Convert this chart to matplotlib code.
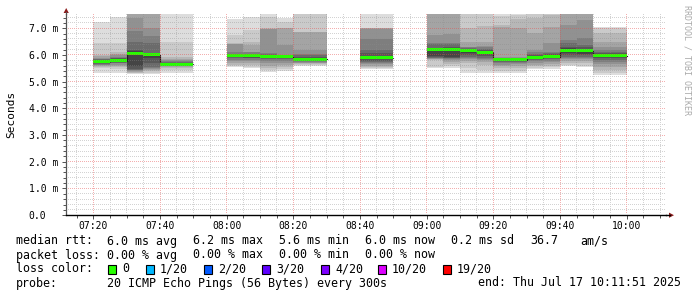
import matplotlib
matplotlib.use("Agg")
import matplotlib.pyplot as plt
from matplotlib.patches import Rectangle
import numpy as np

# ---------------- data (values in milliseconds) ----------------
slot_starts = ["07:20", "07:25", "07:30", "07:35", "07:40", "07:45", "07:50", "07:55",
               "08:00", "08:05", "08:10", "08:15", "08:20", "08:25", "08:30", "08:35",
               "08:40", "08:45", "08:50", "08:55", "09:00", "09:05", "09:10", "09:15",
               "09:20", "09:25", "09:30", "09:35", "09:40", "09:45", "09:50", "09:55"]

median_ms = [5.74, 5.79, 6.06, 6.01, 5.65, 5.65, None, None,
             5.96, 5.96, 5.94, 5.94, 5.84, 5.84, None, None,
             5.90, 5.90, None, None, 6.22, 6.22, 6.16, 6.10,
             5.81, 5.81, 5.90, 5.94, 6.18, 6.15, 5.97, 5.97]

# 20 sorted ping round-trip times per 5-minute slot
ping_ms = [
    [5.31, 5.50, 5.55, 5.58, 5.61, 5.64, 5.67, 5.69, 5.71, 5.73, 5.76, 5.78, 5.80, 5.83, 5.86, 5.90, 5.95, 6.00, 6.44, 7.22],
    [5.31, 5.48, 5.55, 5.60, 5.64, 5.68, 5.71, 5.74, 5.76, 5.78, 5.81, 5.84, 5.87, 5.90, 5.94, 5.98, 6.03, 6.12, 6.44, 7.41],
    [5.30, 5.32, 5.34, 5.37, 5.40, 5.42, 5.44, 5.46, 5.60, 6.02, 6.10, 6.13, 6.19, 6.50, 6.90, 7.40, 7.60, 7.70, 7.80, 7.90],
    [5.30, 5.34, 5.38, 5.42, 5.46, 5.50, 5.56, 5.70, 5.90, 5.99, 6.03, 6.05, 6.08, 6.44, 6.70, 7.00, 7.60, 7.70, 7.80, 7.90],
    [5.31, 5.42, 5.50, 5.55, 5.58, 5.60, 5.61, 5.62, 5.63, 5.64, 5.67, 5.69, 5.71, 5.74, 5.77, 5.81, 5.86, 5.94, 6.50, 7.80],
    [5.31, 5.42, 5.50, 5.55, 5.58, 5.60, 5.61, 5.62, 5.63, 5.64, 5.67, 5.69, 5.71, 5.74, 5.77, 5.81, 5.86, 5.94, 6.50, 7.80],
    None,
    None,
    [5.56, 5.60, 5.63, 5.70, 5.78, 5.82, 5.89, 5.91, 5.93, 5.95, 5.97, 5.99, 6.00, 6.05, 6.12, 6.40, 6.42, 6.44, 6.75, 7.35],
    [5.52, 5.56, 5.63, 5.70, 5.76, 5.82, 5.87, 5.90, 5.93, 5.95, 5.97, 5.99, 6.00, 6.05, 6.10, 6.12, 6.37, 6.50, 6.94, 7.41],
    [5.35, 5.42, 5.50, 5.60, 5.70, 5.78, 5.84, 5.88, 5.91, 5.93, 5.95, 5.97, 6.00, 6.02, 6.06, 6.96, 6.98, 7.00, 7.42, 7.80],
    [5.40, 5.46, 5.54, 5.62, 5.70, 5.78, 5.84, 5.88, 5.91, 5.93, 5.95, 5.96, 5.97, 5.98, 6.00, 6.37, 7.00, 7.02, 7.25, 7.40],
    [5.60, 5.62, 5.65, 5.68, 5.70, 5.73, 5.76, 5.79, 5.81, 5.83, 5.86, 5.88, 5.92, 6.00, 6.05, 6.19, 6.85, 6.87, 7.60, 7.80],
    [5.60, 5.62, 5.65, 5.68, 5.70, 5.73, 5.76, 5.79, 5.81, 5.83, 5.86, 5.88, 5.92, 6.00, 6.05, 6.19, 6.85, 6.87, 7.60, 7.80],
    None,
    None,
    [5.47, 5.50, 5.55, 5.60, 5.65, 5.70, 5.75, 5.78, 5.85, 5.88, 5.92, 5.97, 6.06, 6.19, 6.60, 6.98, 6.99, 7.00, 7.00, 7.80],
    [5.47, 5.50, 5.55, 5.60, 5.65, 5.70, 5.75, 5.78, 5.85, 5.88, 5.92, 5.97, 6.06, 6.19, 6.60, 6.98, 6.99, 7.00, 7.00, 7.80],
    None,
    None,
    [5.50, 5.56, 5.80, 5.83, 5.85, 5.87, 5.90, 5.93, 5.96, 6.20, 6.24, 6.25, 6.26, 6.42, 6.44, 6.75, 7.60, 7.70, 7.80, 7.90],
    [5.52, 5.58, 5.66, 5.74, 5.80, 5.84, 5.87, 5.90, 5.94, 6.20, 6.24, 6.26, 6.28, 6.40, 6.46, 6.80, 7.60, 7.70, 7.80, 7.90],
    [5.31, 5.50, 5.69, 5.78, 5.85, 5.90, 5.94, 6.00, 6.08, 6.14, 6.18, 6.20, 6.22, 6.25, 6.28, 6.31, 6.50, 7.00, 7.70, 7.80],
    [5.31, 5.45, 5.63, 5.74, 5.80, 5.86, 5.90, 5.95, 6.02, 6.08, 6.12, 6.14, 6.17, 6.22, 6.28, 6.35, 6.50, 7.10, 7.70, 7.80],
    [5.31, 5.38, 5.50, 5.58, 5.63, 5.68, 5.72, 5.76, 5.78, 5.80, 5.83, 5.85, 5.87, 5.88, 5.90, 5.92, 7.05, 7.12, 7.45, 7.80],
    [5.31, 5.40, 5.52, 5.60, 5.65, 5.69, 5.73, 5.76, 5.78, 5.80, 5.83, 5.85, 5.87, 5.88, 5.90, 5.92, 7.00, 7.35, 7.50, 7.65],
    [5.47, 5.52, 5.58, 5.64, 5.70, 5.76, 5.81, 5.84, 5.87, 5.89, 5.92, 5.95, 5.98, 6.02, 6.10, 6.19, 6.81, 7.40, 7.70, 7.80],
    [5.47, 5.53, 5.60, 5.66, 5.72, 5.78, 5.83, 5.87, 5.90, 5.93, 5.96, 5.99, 6.02, 6.06, 6.12, 6.44, 7.06, 7.50, 7.70, 7.80],
    [5.58, 5.63, 5.70, 5.78, 5.85, 5.90, 5.94, 6.00, 6.06, 6.16, 6.20, 6.24, 6.31, 6.44, 6.56, 7.12, 7.60, 7.70, 7.80, 7.90],
    [5.54, 5.60, 5.68, 5.76, 5.83, 5.88, 5.93, 5.98, 6.04, 6.13, 6.18, 6.22, 6.28, 6.37, 6.62, 7.30, 7.60, 7.70, 7.80, 7.90],
    [5.26, 5.33, 5.45, 5.56, 5.66, 5.74, 5.81, 5.87, 5.92, 5.95, 6.00, 6.03, 6.06, 6.12, 6.19, 6.31, 6.50, 6.81, 7.00, 7.05],
    [5.26, 5.33, 5.45, 5.56, 5.66, 5.74, 5.81, 5.87, 5.92, 5.95, 6.00, 6.03, 6.06, 6.12, 6.19, 6.31, 6.50, 6.81, 7.00, 7.05],
]

time_start = "07:11:51"
time_end = "10:11:51"
step_min = 5
x_tick_labels = ["07:20", "07:40", "08:00", "08:20", "08:40", "09:00", "09:20", "09:40", "10:00"]
y_ticks = [0, 1, 2, 3, 4, 5, 6, 7]
y_max = 7.55

stats_rtt = ["median rtt:", "6.0 ms avg", "6.2 ms max", "5.6 ms min", "6.0 ms now", "0.2 ms sd", "36.7", "am/s"]
stats_loss = ["packet loss:", "0.00 % avg", "0.00 % max", "0.00 % min", "0.00 % now"]
loss_labels = ["0", "1/20", "2/20", "3/20", "4/20", "10/20", "19/20"]
loss_colors = ["#26ff00", "#00b8ff", "#0059ff", "#5e00ff", "#7e00ff", "#dd00ff", "#ff0000"]
probe_text = "20 ICMP Echo Pings (56 Bytes) every 300s"
end_text = "end: Thu Jul 17 10:11:51 2025"

# ---------------- helpers ----------------
def to_min(s):
    parts = [int(p) for p in s.split(":")]
    m = parts[0] * 60 + parts[1]
    if len(parts) > 2:
        m += parts[2] / 60.0
    return m

W, H = 697, 297
fig = plt.figure(figsize=(W / 100, H / 100), dpi=100)
fig.patch.set_facecolor("white")
MONO = "DejaVu Sans Mono"

ax_l, ax_r, ax_b, ax_t = 66.2, 666.2, 215.2, 13.5
ax = fig.add_axes([ax_l / W, 1 - ax_b / H, (ax_r - ax_l) / W, (ax_b - ax_t) / H])
ax.set_facecolor("white")
ax.set_xlim(to_min(time_start), to_min(time_end))
ax.set_ylim(0, y_max)
px_per_ms = (ax_b - ax_t) / y_max

# ---------------- smoke ----------------
xs = np.array([to_min(s) for s in slot_starts], dtype=float)
n = 20
half = n // 2
for k in range(1, half + 1):
    g = int(190 / half * (half - k)) + 50
    col = "#%02x%02x%02x" % (g, g, g)
    lefts, lows, heights = [], [], []
    for x, p in zip(xs, ping_ms):
        if p is None:
            continue
        lefts.append(x)
        lows.append(p[k - 1])
        heights.append(p[n - k] - p[k - 1])
    ax.bar(lefts, heights, bottom=lows, width=step_min, align="edge",
           color=col, linewidth=0, zorder=1, antialiased=False)

# ---------------- median ----------------
med = np.array([np.nan if m is None else m for m in median_ms])
xm = np.append(xs, xs[-1] + step_min)
ym = np.append(med, med[-1])
ax.plot(xm, ym, drawstyle="steps-post", color="#202020", lw=0.8, zorder=3)
band_h = 3.0 / px_per_ms
ok = ~np.isnan(med)
ax.bar(xs[ok], np.full(ok.sum(), band_h), bottom=med[ok] - band_h / 2, width=step_min,
       align="edge", color=loss_colors[0], linewidth=0, zorder=4, antialiased=False)

# ---------------- ticks ----------------
major_x = [to_min(s) for s in x_tick_labels]
minor_x = np.arange(to_min("07:15"), to_min(time_end), step_min)
minor_y = np.arange(0, y_max, 0.2)
ax.set_xticks(major_x)
ax.set_xticklabels(x_tick_labels, fontsize=7, family=MONO)
ax.set_xticks(minor_x, minor=True)
ax.set_yticks(y_ticks)
ax.set_yticklabels(["%.1f m" % v if v else "0.0" for v in y_ticks], fontsize=7, family=MONO)
ax.set_yticks(minor_y, minor=True)

ax.tick_params(axis="both", which="both", direction="out", color="#555555", width=0.72)
ax.tick_params(axis="x", which="major", length=3, pad=1.5)
ax.tick_params(axis="x", which="minor", length=2)
ax.tick_params(axis="y", which="major", length=3)
ax.tick_params(axis="y", which="minor", length=2)
for lab in ax.get_yticklabels():
    lab.set_horizontalalignment("left")
ax.tick_params(axis="y", which="major", pad=(ax_l - 30 - 3) * 0.72)

for side in ["top", "right"]:
    ax.spines[side].set_visible(False)
ax.spines["left"].set_color("#555555")
ax.spines["left"].set_linewidth(0.9)
ax.spines["bottom"].set_color("black")
ax.spines["bottom"].set_linewidth(1.0)

# ---------------- dotted grid as a pixel-exact overlay ----------------
T = ax.transData
bb = ax.bbox
grid_img = np.zeros((H, W, 4), dtype=float)
c_lo = int(np.ceil(bb.x0)) + 1
c_hi = int(np.floor(bb.x1))
r_lo = int(np.ceil(H - bb.y1))
r_hi = int(np.floor(H - bb.y0)) - 1

def put_h(v, rgba):
    row = int(np.floor(H - T.transform((0, v))[1]))
    grid_img[row, c_lo:c_hi:2] = rgba

def put_v(t, rgba):
    col = int(np.floor(T.transform((t, 0))[0]))
    grid_img[r_lo:r_hi:2, col] = rgba

minor_rgba = (0.55, 0.55, 0.55, 0.38)
major_rgba = (0.90, 0.30, 0.30, 0.45)
for v in minor_y:
    if abs(v - round(v)) > 1e-6:
        put_h(v, minor_rgba)
for t in minor_x:
    if all(abs(t - m) > 1e-6 for m in major_x):
        put_v(t, minor_rgba)
for v in y_ticks:
    if v > 0:
        put_h(v, major_rgba)
for t in major_x:
    put_v(t, major_rgba)
fig.figimage(grid_img, xo=0, yo=0, origin="upper", zorder=5)

# axis extensions and arrows (figure pixel coordinates)
def fx(x): return x / W
def fy(y): return 1 - y / H
fig.add_artist(plt.Line2D([fx(ax_l), fx(ax_l)], [fy(ax_t), fy(12)], color="#555555", lw=0.9))
fig.add_artist(plt.Line2D([fx(ax_r), fx(670)], [fy(ax_b), fy(ax_b)], color="black", lw=1.0))
fig.add_artist(plt.Polygon([[fx(ax_l - 2.6), fy(13)], [fx(ax_l + 2.6), fy(13)], [fx(ax_l), fy(8)]],
                           closed=True, color="#8b1a1a", lw=0))
fig.add_artist(plt.Polygon([[fx(669), fy(ax_b - 2.6)], [fx(669), fy(ax_b + 2.6)], [fx(674), fy(ax_b)]],
                           closed=True, color="#8b1a1a", lw=0))

# y label and watermark
fig.text(fx(11), fy(114), "Seconds", rotation=90, ha="center", va="center",
         fontsize=8, family=MONO, color="black")
fig.text(fx(687), fy(60), "RRDTOOL / TOBI OETIKER", rotation=270, ha="center", va="center",
         fontsize=6, family=MONO, color="#aaaaaa")

# ---------------- legend / statistics ----------------
FS = 8.4
col_x = [16, 107, 193, 279, 365, 451, 530, 580]
for txt, x in zip(stats_rtt, col_x):
    fig.text(fx(x), fy(241), txt, ha="left", va="center", fontsize=FS, family=MONO)
for txt, x in zip(stats_loss, col_x):
    fig.text(fx(x), fy(255), txt, ha="left", va="center", fontsize=FS, family=MONO)

fig.text(fx(16), fy(269), "loss color:", ha="left", va="center", fontsize=FS, family=MONO)
box_x = [108, 146, 204, 262, 321, 378, 443]
for lab, c, bx in zip(loss_labels, loss_colors, box_x):
    fig.add_artist(Rectangle((fx(bx), fy(273.5)), 8 / W, 9 / H, facecolor=c,
                             edgecolor="black", lw=0.8))
    fig.text(fx(bx + 14), fy(269), lab, ha="left", va="center", fontsize=FS, family=MONO)

fig.text(fx(16), fy(283), "probe:", ha="left", va="center", fontsize=FS, family=MONO)
fig.text(fx(107), fy(283), probe_text, ha="left", va="center", fontsize=FS, family=MONO)
fig.text(fx(681), fy(283), end_text, ha="right", va="center", fontsize=FS, family=MONO)

fig.savefig("out.png", dpi=100, facecolor="white")
